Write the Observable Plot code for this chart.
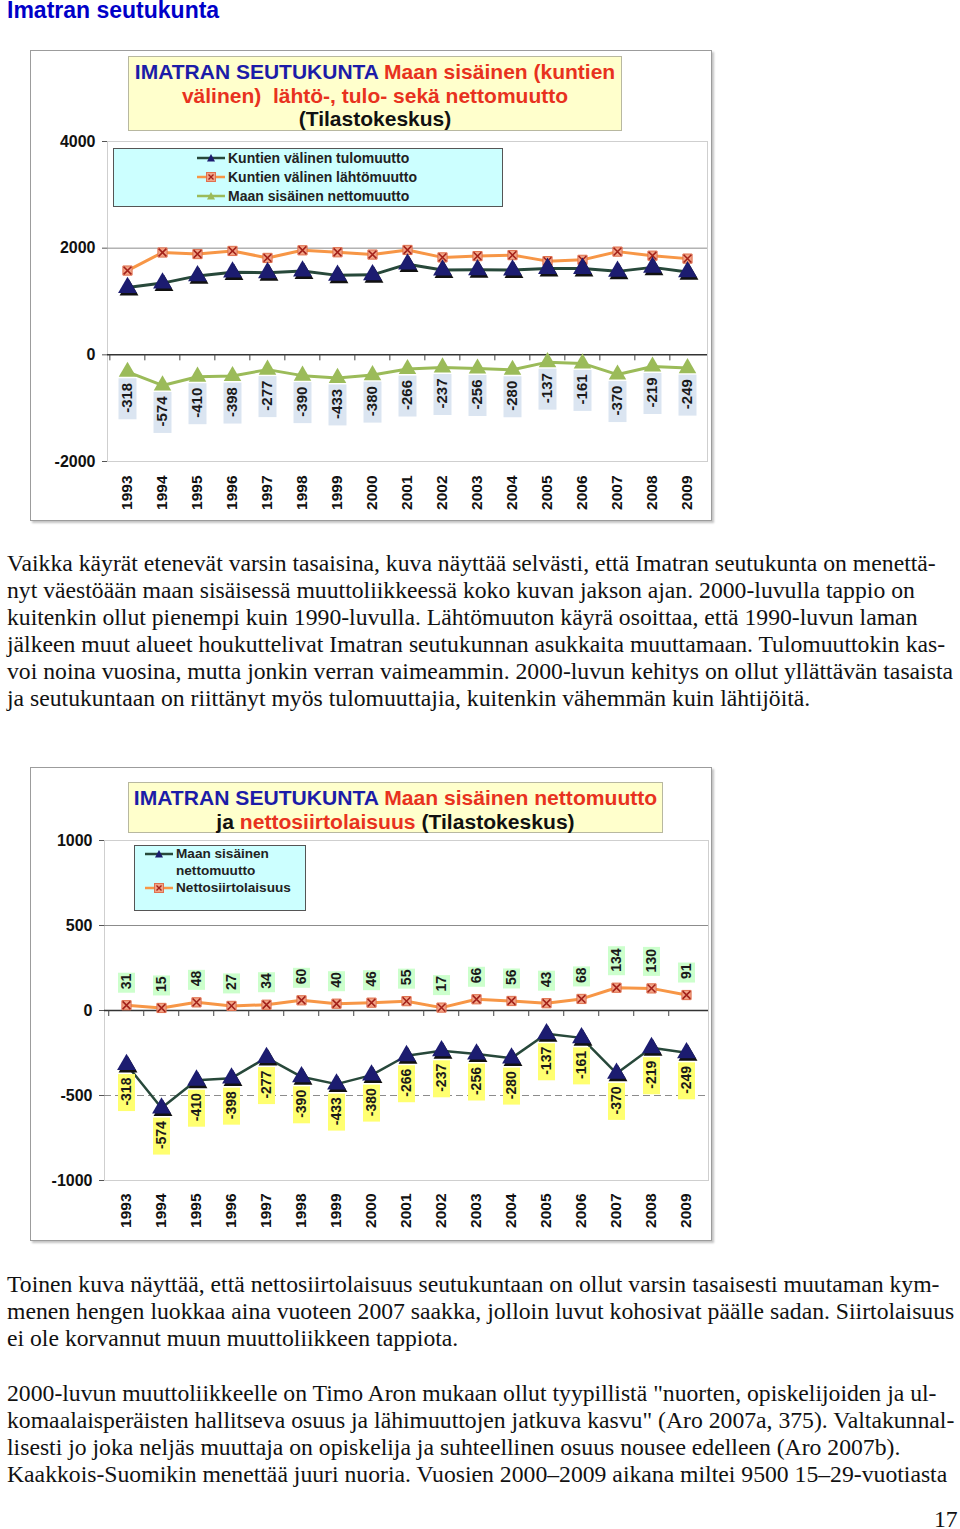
<!DOCTYPE html>
<html><head><meta charset="utf-8">
<script src="https://cdn.jsdelivr.net/npm/d3@7"></script>
<script src="https://cdn.jsdelivr.net/npm/@observablehq/plot@0.6"></script>
<style>
body{margin:0;background:#fff;width:960px;height:1529px;position:relative;overflow:hidden;}
.abs{position:absolute}
.hdr{left:7px;top:0px;font:bold 23px "Liberation Sans",Arial,sans-serif;line-height:21px;color:#0000c8;white-space:nowrap}
.para{position:absolute;left:7px;font:23.7px "Liberation Serif","Times New Roman",serif;color:#111;line-height:27px;white-space:nowrap}
.frame{position:absolute;left:30px;width:682px;border:1.5px solid #9c9c9c;box-sizing:border-box;box-shadow:2px 2px 2px #c4c4c4;background:#fff}
.title{position:absolute;background:#ffffcc;border:1px solid #b8b8a0;box-sizing:border-box;text-align:center;font:bold 21px "Liberation Sans",Arial,sans-serif;line-height:23.5px;color:#111;padding-top:3px;white-space:nowrap}
.b{color:#1c1ca8}.r{color:#e8321e}
.legend{position:absolute;background:#ccffff;border:1px solid #555;box-sizing:border-box;font:bold 14px "Liberation Sans",Arial,sans-serif;color:#222}
.row{position:absolute;display:flex;align-items:center;white-space:nowrap}
.plot{position:absolute}
</style></head>
<body>
<div class="abs hdr">Imatran seutukunta</div>

<div class="frame" style="top:50px;height:471px"></div>
<div class="plot" id="c1" style="left:31px;top:51px"></div>
<div class="title" style="left:128px;top:56px;width:494px;height:75px">
<span class="b">IMATRAN SEUTUKUNTA</span> <span class="r">Maan sisäinen (kuntien<br>välinen)&nbsp; lähtö-, tulo- sekä nettomuutto</span><br>(Tilastokeskus)</div>
<div class="legend" id="lg1" style="left:113px;top:148px;width:390px;height:59px"></div>

<div class="para" style="top:550px">
<div>Vaikka käyrät etenevät varsin tasaisina, kuva näyttää selvästi, että Imatran seutukunta on menettä-</div>
<div>nyt väestöään maan sisäisessä muuttoliikkeessä koko kuvan jakson ajan. 2000-luvulla tappio on</div>
<div>kuitenkin ollut pienempi kuin 1990-luvulla. Lähtömuuton käyrä osoittaa, että 1990-luvun laman</div>
<div>jälkeen muut alueet houkuttelivat Imatran seutukunnan asukkaita muuttamaan. Tulomuuttokin kas-</div>
<div>voi noina vuosina, mutta jonkin verran vaimeammin. 2000-luvun kehitys on ollut yllättävän tasaista</div>
<div>ja seutukuntaan on riittänyt myös tulomuuttajia, kuitenkin vähemmän kuin lähtijöitä.</div>
</div>

<div class="frame" style="top:767px;height:474px"></div>
<div class="plot" id="c2" style="left:31px;top:768px"></div>
<div class="title" style="left:128px;top:782px;width:535px;height:51px;font-size:21.1px">
<span class="b">IMATRAN SEUTUKUNTA</span> <span class="r">Maan sisäinen nettomuutto</span><br>ja <span class="r">nettosiirtolaisuus</span> (Tilastokeskus)</div>
<div class="legend" id="lg2" style="left:134px;top:845px;width:172px;height:66px;font-size:13.6px"></div>

<div class="para" style="top:1271px">
<div>Toinen kuva näyttää, että nettosiirtolaisuus seutukuntaan on ollut varsin tasaisesti muutaman kym-</div>
<div>menen hengen luokkaa aina vuoteen 2007 saakka, jolloin luvut kohosivat päälle sadan. Siirtolaisuus</div>
<div>ei ole korvannut muun muuttoliikkeen tappiota.</div>
</div>
<div class="para" style="top:1380px">
<div>2000-luvun muuttoliikkeelle on Timo Aron mukaan ollut tyypillistä "nuorten, opiskelijoiden ja ul-</div>
<div>komaalaisperäisten hallitseva osuus ja lähimuuttojen jatkuva kasvu" (Aro 2007a, 375). Valtakunnal-</div>
<div>lisesti jo joka neljäs muuttaja on opiskelija ja suhteellinen osuus nousee edelleen (Aro 2007b).</div>
<div>Kaakkois-Suomikin menettää juuri nuoria. Vuosien 2000–2009 aikana miltei 9500 15–29-vuotiasta</div>
</div>
<div class="para" style="top:1506px;left:934px">17</div>

<script>
// ---- data ----
const years = [1993,1994,1995,1996,1997,1998,1999,2000,2001,2002,2003,2004,2005,2006,2007,2008,2009];
const tulomuutto = [1262,1345,1480,1550,1540,1570,1490,1500,1700,1590,1595,1590,1620,1620,1565,1640,1555];
const lahtomuutto = [1580,1919,1890,1948,1817,1960,1923,1880,1966,1827,1851,1870,1757,1781,1935,1859,1804];
const nettomuutto = [-318,-574,-410,-398,-277,-390,-433,-380,-266,-237,-256,-280,-137,-161,-370,-219,-249];
const nettosiirtolaisuus = [31,15,48,27,34,60,40,46,55,17,66,56,43,68,134,130,91];
const yTicks1 = [-2000,0,2000,4000];
const yTicks2 = [-1000,-500,0,500,1000];
const legend1 = ["Kuntien välinen tulomuutto","Kuntien välinen lähtömuutto","Maan sisäinen nettomuutto"];
const legend2 = ["Maan sisäinen","nettomuutto","Nettosiirtolaisuus"];

const C = {navy:"#1c1c70", darkLine:"#27483a", orange:"#f79646", sqFill:"#f2a486", sqStroke:"#e0714f", cross:"#a3221a", green:"#9bbb59"};
const font = "'Liberation Sans', Arial, sans-serif";

function orangeMarks(data, y){
  return [
    Plot.dot(data,{x:"year",y,symbol:"square",r:5.2,fill:C.sqFill,stroke:C.sqStroke,strokeWidth:1}),
    Plot.dot(data,{x:"year",y,symbol:"times",r:3.6,stroke:C.cross,strokeWidth:1.6})
  ];
}
function navyTriangles(data, y){
  return [
    Plot.dot(data,{x:"year",y,symbol:"triangle",r:7,fill:"#111",dx:1.5,dy:2.5}),
    Plot.dot(data,{x:"year",y,symbol:"triangle",r:7,fill:C.navy})
  ];
}

// ---- chart 1 ----
{
  const W=680,H=469,mt=90,mb=59,ml=76,mr=4;
  const yd=[-2000,4000];
  const u=(yd[1]-yd[0])/(H-mt-mb);
  const step=(W-ml-mr)/years.length;
  const d1 = years.map((y,i)=>({year:String(y), tulo:tulomuutto[i], lahto:lahtomuutto[i], net:nettomuutto[i]}));
  const p = Plot.plot({
    width:W,height:H,marginTop:mt,marginBottom:mb,marginLeft:ml,marginRight:mr,
    style:{fontFamily:font,background:"transparent",overflow:"visible",color:"#111"},
    x:{type:"point",domain:years.map(String),padding:0.5},
    y:{domain:yd},
    marks:[
      Plot.frame({stroke:"#cfcfcf"}),
      Plot.ruleY([2000],{stroke:"#8c8c8c"}),
      Plot.ruleY([0],{stroke:"#333",strokeWidth:1.5}),
      Plot.ruleX(d1,{x:"year",y1:0,y2:-6*u,dx:-step/2,stroke:"#444"}),
      Plot.line(d1,{x:"year",y:"net",stroke:C.green,strokeWidth:3}),
      Plot.line(d1,{x:"year",y:"lahto",stroke:C.orange,strokeWidth:3}),
      Plot.line(d1,{x:"year",y:"tulo",stroke:C.darkLine,strokeWidth:3}),
      Plot.ruleX(d1,{x:"year",y1:d=>d.net-7*u,y2:d=>d.net-48*u,stroke:"#dbe5f1",strokeWidth:18}),
      Plot.text(d1,{x:"year",y:"net",text:d=>String(d.net),rotate:-90,textAnchor:"end",dy:11,fontSize:15,fontWeight:"bold",fill:"#1a1a1a"}),
      Plot.dot(d1,{x:"year",y:"net",symbol:"triangle",r:6.5,fill:C.green}),
      ...orangeMarks(d1,"lahto"),
      ...navyTriangles(d1,"tulo"),
      Plot.axisY({ticks:yTicks1,tickFormat:d=>String(d),tickSize:5,tickPadding:7,fontSize:16,fontWeight:"bold",label:null,line:true,stroke:"#555"}),
      Plot.axisX({tickSize:0,tickRotate:-90,tickPadding:14,fontSize:15.5,fontWeight:"bold",label:null})
    ]
  });
  document.getElementById("c1").append(p);
}

// ---- chart 2 ----
{
  const W=680,H=472,mt=72,mb=60,ml=73,mr=3;
  const yd=[-1000,1000];
  const u=(yd[1]-yd[0])/(H-mt-mb);
  const step=(W-ml-mr)/years.length;
  const d2 = years.map((y,i)=>({year:String(y), net:nettomuutto[i], s:nettosiirtolaisuus[i]}));
  const p = Plot.plot({
    width:W,height:H,marginTop:mt,marginBottom:mb,marginLeft:ml,marginRight:mr,
    style:{fontFamily:font,background:"transparent",overflow:"visible",color:"#111"},
    x:{type:"point",domain:years.map(String),padding:0.5},
    y:{domain:yd},
    marks:[
      Plot.frame({stroke:"#cfcfcf"}),
      Plot.ruleY([500],{stroke:"#8c8c8c"}),
      Plot.ruleY([-500],{stroke:"#8c8c8c",strokeDasharray:"7,4"}),
      Plot.ruleY([0],{stroke:"#333",strokeWidth:1.5}),
      Plot.ruleX(d2,{x:"year",y1:0,y2:-6*u,dx:-step/2,stroke:"#444"}),
      Plot.line(d2,{x:"year",y:"s",stroke:C.orange,strokeWidth:3}),
      Plot.line(d2,{x:"year",y:"net",stroke:C.darkLine,strokeWidth:2.5}),
      Plot.ruleX(d2,{x:"year",y1:d=>d.s+12*u,y2:d=>d.s+(14+String(d.s).length*9)*u,stroke:"#ccffcc",strokeWidth:17}),
      Plot.text(d2,{x:"year",y:"s",text:d=>String(d.s),rotate:-90,textAnchor:"start",dy:-16,fontSize:14,fontWeight:"bold",fill:"#1a1a1a"}),
      Plot.ruleX(d2,{x:"year",y1:d=>d.net-10*u,y2:d=>d.net-47*u,stroke:"#ffff70",strokeWidth:17}),
      Plot.text(d2,{x:"year",y:"net",text:d=>String(d.net),rotate:-90,textAnchor:"end",dy:13,fontSize:14,fontWeight:"bold",fill:"#1a1a1a"}),
      ...orangeMarks(d2,"s"),
      ...navyTriangles(d2,"net"),
      Plot.axisY({ticks:yTicks2,tickFormat:d=>String(d),tickSize:5,tickPadding:7,fontSize:16,fontWeight:"bold",label:null,line:true,stroke:"#555"}),
      Plot.axisX({tickSize:0,tickRotate:-90,tickPadding:13,fontSize:15.5,fontWeight:"bold",label:null})
    ]
  });
  document.getElementById("c2").append(p);
}

// ---- legends ----
function swatch(kind){
  const line = kind==="tulo"||kind==="net2" ? C.darkLine : kind==="lahto" ? C.orange : C.green;
  let m;
  if(kind==="lahto") m = `<rect x="9.5" y="2.5" width="9" height="9" fill="${C.sqFill}" stroke="${C.sqStroke}"/><path d="M11.5 4.5L16.5 9.5M16.5 4.5L11.5 9.5" stroke="${C.cross}" stroke-width="1.4"/>`;
  else {
    const f = kind==="net" ? C.green : C.navy;
    m = `<path d="M14 3L18 10.5L10 10.5Z" fill="${f}"/>`;
  }
  return `<svg width="28" height="14" style="margin-right:3px"><line x1="0" y1="7" x2="28" y2="7" stroke="${line}" stroke-width="2.5"/>${m}</svg>`;
}
{
  const lg = document.getElementById("lg1");
  const kinds=["tulo","lahto","net"];
  legend1.forEach((t,i)=>{
    const r=document.createElement("div");r.className="row";
    r.style.left="83px";r.style.top=(1+i*19)+"px";
    r.innerHTML=swatch(kinds[i])+`<span>${t}</span>`;
    lg.append(r);
  });
}
{
  const lg = document.getElementById("lg2");
  const rows=[[swatch("net2"),legend2[0]],["",legend2[1]],[swatch("lahto"),legend2[2]]];
  rows.forEach(([s,t],i)=>{
    const r=document.createElement("div");r.className="row";
    r.style.left=(s?"10px":"41px");r.style.top=(0+i*17)+"px";
    r.innerHTML=s+`<span>${t}</span>`;
    lg.append(r);
  });
}
</script>
</body></html>
